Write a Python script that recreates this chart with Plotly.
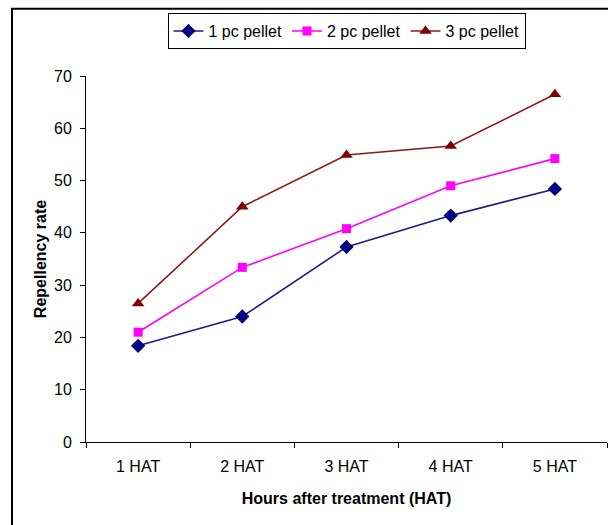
import plotly.graph_objects as go

categories = ["1 HAT", "2 HAT", "3 HAT", "4 HAT", "5 HAT"]
pellet_1 = [18.4, 24.0, 37.3, 43.3, 48.4]
pellet_2 = [21.0, 33.4, 40.8, 49.0, 54.2]
pellet_3 = [26.5, 45.0, 54.9, 56.6, 66.5]
series_names = ["1 pc pellet", "2 pc pellet", "3 pc pellet"]
y_ticks = [0, 10, 20, 30, 40, 50, 60, 70]

FONT = "Liberation Sans, Arial, sans-serif"

fig = go.Figure()
styles = [
    dict(color="#000080", line="#1c1c86", symbol="diamond", size=11),
    dict(color="#FF00FF", line="#FF00FF", symbol="square", size=9),
    dict(color="#800000", line="#8B1A1A", symbol="triangle-up", size=11),
]
for name, vals, st in zip(series_names, [pellet_1, pellet_2, pellet_3], styles):
    fig.add_trace(go.Scatter(
        x=categories, y=vals, name=name, mode="lines+markers",
        line=dict(color=st["line"], width=1.6),
        marker=dict(color=st["color"], symbol=st["symbol"], size=st["size"],
                    line=dict(width=0)),
    ))

fig.update_layout(
    width=608, height=525,
    margin=dict(l=86, r=1, t=76, b=83),
    paper_bgcolor="white", plot_bgcolor="white",
    font=dict(family=FONT, size=16, color="black"),
    showlegend=True,
    legend=dict(
        orientation="h", x=0.5, xanchor="center", y=1.172, yanchor="top",
        bordercolor="black", borderwidth=1, bgcolor="white",
        font=dict(family=FONT, size=16, color="black"),
        itemwidth=30, tracegroupgap=0,
    ),
    xaxis=dict(
        type="category", range=[-0.5, 4.5],
        showline=True, linecolor="black", linewidth=1,
        ticks="outside", ticklen=5, tickcolor="black", tickson="boundaries",
        showgrid=False, zeroline=False,
        tickfont=dict(family=FONT, size=16),
        ticklabelstandoff=10,
        title=dict(text="<b>Hours after treatment (HAT)</b>",
                   font=dict(family=FONT, size=16), standoff=18),
    ),
    yaxis=dict(
        range=[0, 70], tickvals=y_ticks,
        showline=True, linecolor="black", linewidth=1,
        ticks="outside", ticklen=5, tickcolor="black",
        showgrid=False, zeroline=False,
        tickfont=dict(family=FONT, size=16),
        ticklabelstandoff=5,
        title=dict(text="<b>Repellency rate</b>",
                   font=dict(family=FONT, size=16), standoff=3),
    ),
    shapes=[dict(
        type="rect", xref="paper", yref="paper",
        x0=-0.142, x1=1.03, y0=-0.3, y1=1.184,
        line=dict(color="black", width=2), fillcolor="rgba(0,0,0,0)",
        layer="below",
    )],
)

fig.write_html("out.html")
